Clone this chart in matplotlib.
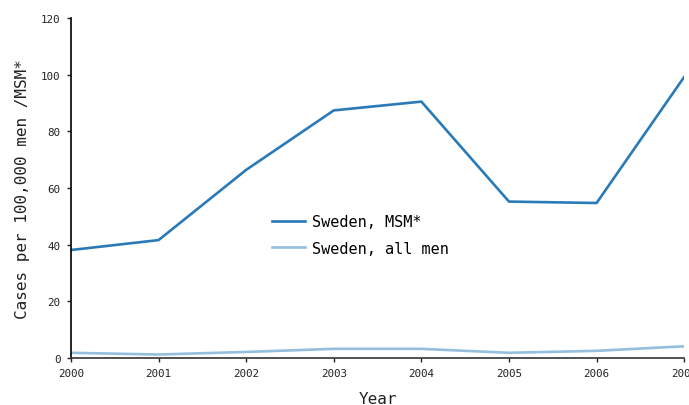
import matplotlib
matplotlib.use("Agg")
import matplotlib.pyplot as plt

years = [2000, 2001, 2002, 2003, 2004, 2005, 2006, 2007]
msm = [38.1, 41.6, 66.4, 87.4, 90.5, 55.2, 54.7, 99.2]
all_men = [1.8, 1.2, 2.1, 3.2, 3.2, 1.8, 2.5, 4.1]
yticks = [0, 20, 40, 60, 80, 100, 120]

plt.rcParams['font.family'] = ['DejaVu Sans Mono']

fig = plt.figure(figsize=(6.89, 4.06), dpi=100)
ax = fig.add_axes([0.103, 0.116, 0.890, 0.837])
ax.plot(years, msm, color='#2a7ab8', lw=1.9, label='Sweden, MSM*')
ax.plot(years, all_men, color='#94bfdf', lw=1.9, label='Sweden, all men')
ax.set_xlim(2000, 2007)
ax.set_ylim(0, 120)
ax.set_xticks(years)
ax.set_yticks(yticks)
ax.tick_params(labelsize=7.8, length=3, width=1, colors='#222222', pad=4.5)
for s in ['top', 'right']:
    ax.spines[s].set_visible(False)
ax.spines['left'].set_color('black')
ax.spines['bottom'].set_color('#333333')
ax.spines['left'].set_linewidth(1.2)
ax.spines['bottom'].set_linewidth(1.2)
ax.set_xlabel('Year', fontsize=11.5, color='#222222', labelpad=9)
ax.set_ylabel('Cases per 100,000 men /MSM*', fontsize=11.5, color='#222222')
ax.yaxis.set_label_coords(-0.066, 0.5)
leg = ax.legend(loc='center left', bbox_to_anchor=(0.305, 0.362), frameon=False,
                fontsize=11, handlelength=2.2, handletextpad=0.45, labelspacing=0.78)
fig.savefig('out.png', dpi=100)
